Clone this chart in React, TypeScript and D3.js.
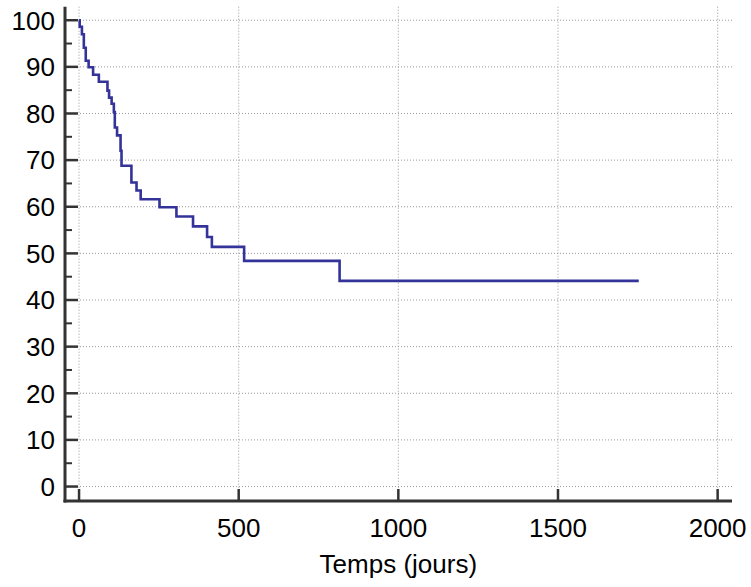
import React from "react";
import * as d3 from "d3";

const times = [0, 2, 9, 15, 21, 30, 44, 62, 89, 94, 102, 109, 112, 119, 130, 133, 164, 180, 193, 252, 305, 357, 401, 416, 517, 816, 1753];
const survival = [100, 98.6, 97.0, 94.1, 91.3, 89.9, 88.3, 86.8, 84.9, 83.4, 82.1, 80.3, 77.0, 75.3, 72.0, 68.8, 65.2, 63.5, 61.6, 59.9, 57.9, 55.8, 53.5, 51.4, 48.4, 44.1, 44.1];
const xTicks = [0, 500, 1000, 1500, 2000];
const yTicks = [0, 10, 20, 30, 40, 50, 60, 70, 80, 90, 100];
const yMinorTicks = [5, 15, 25, 35, 45, 55, 65, 75, 85, 95];
const xTitle = "Temps (jours)";

const W = 751;
const H = 587;
const FONT = "'Liberation Sans', Arial, Helvetica, sans-serif";

export default function App() {
  const x = d3.scaleLinear().domain([-44, 2045]).range([65, 732]);
  const y = d3.scaleLinear().domain([-3.1, 102.9]).range([501, 6.7]);
  const pts: [number, number][] = times.map((t, i) => [t, survival[i]]);
  const line = d3
    .line<[number, number]>()
    .x((d) => x(d[0]))
    .y((d) => y(d[1]))
    .curve(d3.curveStepAfter);
  const [x0, x1] = x.range();
  const [yb, yt] = y.range();
  const axisColor = "#333";
  return (
    <svg width={W} height={H} style={{ position: "absolute", left: 0, top: 0, background: "#fff" }} fontFamily={FONT}>
      {/* grid */}
      {xTicks.map((t) => (
        <line key={"gx" + t} x1={x(t)} x2={x(t)} y1={yt} y2={yb} stroke="#999" strokeWidth={1} strokeDasharray="1,2" />
      ))}
      {yTicks.map((t) => (
        <line key={"gy" + t} x1={x0} x2={x1} y1={y(t)} y2={y(t)} stroke="#999" strokeWidth={1} strokeDasharray="1,2" />
      ))}
      {/* curve */}
      <path d={line(pts) || ""} fill="none" stroke="#333399" strokeWidth={2.6} strokeLinejoin="miter" />
      {/* axes */}
      <line x1={x0} x2={x0} y1={yt} y2={yb + 1.5} stroke={axisColor} strokeWidth={3} />
      <line x1={x0 - 1.5} x2={x1} y1={yb} y2={yb} stroke={axisColor} strokeWidth={3} />
      {yTicks.map((t) => (
        <line key={"ty" + t} x1={x0} x2={x0 + 13} y1={y(t)} y2={y(t)} stroke={axisColor} strokeWidth={2.5} />
      ))}
      {yMinorTicks.map((t) => (
        <line key={"tym" + t} x1={x0} x2={x0 + 7} y1={y(t)} y2={y(t)} stroke={axisColor} strokeWidth={2} />
      ))}
      {xTicks.map((t) => (
        <line key={"tx" + t} x1={x(t)} x2={x(t)} y1={yb} y2={yb - 12} stroke={axisColor} strokeWidth={2.5} />
      ))}
      {/* labels */}
      {yTicks.map((t) => (
        <text key={"ly" + t} x={55} y={y(t) + 9.3} textAnchor="end" fontSize={26} fill="#000">
          {t}
        </text>
      ))}
      {xTicks.map((t) => (
        <text key={"lx" + t} x={x(t)} y={536.7} textAnchor="middle" fontSize={26} fill="#000">
          {t}
        </text>
      ))}
      <text x={x(1000)} y={573.3} textAnchor="middle" fontSize={26} fill="#000">
        {xTitle}
      </text>
    </svg>
  );
}
